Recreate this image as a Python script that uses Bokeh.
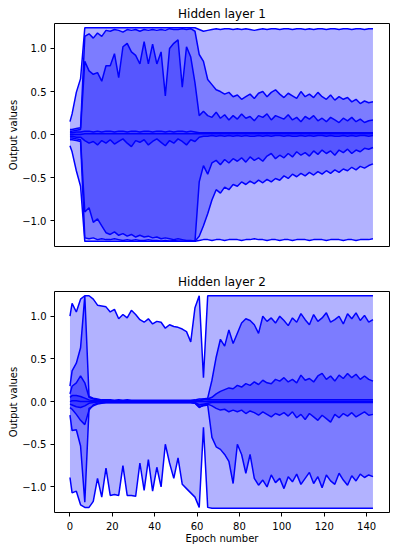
from bokeh.plotting import figure
from bokeh.layouts import column
from bokeh.models import Range1d, FixedTicker, CustomJSTickFormatter
from bokeh.embed import file_html
from bokeh.resources import INLINE

# epochs at which the percentile curves are read
epochs = [0] + list(range(1, 144, 2))

# ---------- Hidden layer 1: nine percentile curves, top to bottom ----------
h1_q0 = [0.15, 0.24, 0.49, 0.65, 1.24, 1.24, 1.24, 1.24, 1.24, 1.24,
         1.24, 1.24, 1.24, 1.24, 1.24, 1.24, 1.24, 1.24, 1.24, 1.24,
         1.24, 1.24, 1.24, 1.24, 1.24, 1.24, 1.24, 1.24, 1.24, 1.24,
         1.24, 1.22, 1.20, 1.21, 1.22, 1.23, 1.22, 1.23, 1.23, 1.22,
         1.23, 1.22, 1.23, 1.22, 1.21, 1.22, 1.23, 1.22, 1.23, 1.23,
         1.22, 1.23, 1.23, 1.22, 1.23, 1.23, 1.22, 1.23, 1.22, 1.23,
         1.23, 1.22, 1.23, 1.23, 1.22, 1.23, 1.23, 1.22, 1.23, 1.23,
         1.22, 1.23, 1.23]
h1_q1 = [0.06, 0.06, 0.07, 0.08, 1.14, 1.17, 1.12, 1.18, 1.14, 1.21,
         1.20, 1.22, 1.21, 1.19, 1.22, 1.21, 1.22, 1.20, 1.22, 1.21,
         1.22, 1.21, 1.22, 1.21, 1.23, 1.22, 1.22, 1.23, 1.22, 1.23,
         1.20, 0.93, 0.85, 0.64, 0.58, 0.52, 0.50, 0.47, 0.49, 0.44,
         0.46, 0.41, 0.44, 0.47, 0.42, 0.48, 0.50, 0.44, 0.49, 0.52,
         0.47, 0.43, 0.48, 0.45, 0.42, 0.50, 0.44, 0.47, 0.43, 0.49,
         0.44, 0.41, 0.46, 0.40, 0.44, 0.41, 0.43, 0.38, 0.41, 0.36,
         0.39, 0.37, 0.38]
h1_q2 = [0.04, 0.04, 0.05, 0.06, 0.85, 0.74, 0.70, 0.72, 0.62, 0.80,
         0.80, 0.94, 0.66, 1.02, 1.06, 0.96, 0.92, 0.82, 1.08, 0.82,
         1.05, 0.82, 0.96, 0.45, 1.00, 1.06, 1.10, 0.55, 1.02, 0.90,
         0.60, 0.22, 0.27, 0.22, 0.20, 0.26, 0.19, 0.23, 0.17, 0.22,
         0.18, 0.24, 0.19, 0.21, 0.16, 0.22, 0.20, 0.24, 0.17, 0.22,
         0.20, 0.18, 0.23, 0.17, 0.20, 0.15, 0.21, 0.18, 0.22, 0.16,
         0.19, 0.15, 0.20, 0.17, 0.14, 0.19, 0.16, 0.20, 0.15, 0.18,
         0.14, 0.16, 0.17]
h1_q3 = [0.02, 0.02, 0.03, 0.03, 0.04, 0.04, 0.03, 0.04, 0.03, 0.04,
         0.04, 0.03, 0.04, 0.04, 0.03, 0.04, 0.04, 0.03, 0.04, 0.04,
         0.03, 0.04, 0.04, 0.03, 0.04, 0.03, 0.04, 0.04, 0.03, 0.04,
         0.03, 0.02, 0.02, 0.02, 0.02, 0.02, 0.02, 0.02, 0.02, 0.02,
         0.02, 0.02, 0.02, 0.02, 0.02, 0.02, 0.02, 0.02, 0.02, 0.02,
         0.02, 0.02, 0.02, 0.02, 0.02, 0.02, 0.02, 0.02, 0.02, 0.02,
         0.02, 0.02, 0.02, 0.02, 0.02, 0.02, 0.02, 0.02, 0.02, 0.02,
         0.02, 0.02, 0.02]
h1_q4 = [0.00, 0.00, 0.00, 0.00, 0.01, 0.01, 0.01, 0.01, 0.01, 0.01,
         0.01, 0.01, 0.01, 0.01, 0.01, 0.01, 0.01, 0.01, 0.01, 0.01,
         0.01, 0.01, 0.01, 0.01, 0.01, 0.01, 0.01, 0.01, 0.01, 0.01,
         0.01, 0.01, 0.01, 0.01, 0.01, 0.01, 0.01, 0.01, 0.01, 0.01,
         0.01, 0.01, 0.01, 0.01, 0.01, 0.01, 0.01, 0.01, 0.01, 0.01,
         0.01, 0.01, 0.01, 0.01, 0.01, 0.01, 0.01, 0.01, 0.01, 0.01,
         0.01, 0.01, 0.01, 0.01, 0.01, 0.01, 0.01, 0.01, 0.01, 0.01,
         0.01, 0.01, 0.01]
h1_q5 = [-0.02, -0.02, -0.03, -0.03, -0.07, -0.10, -0.08, -0.12, -0.07, -0.10,
         -0.06, -0.11, -0.08, -0.05, -0.10, -0.14, -0.07, -0.09, -0.06, -0.12,
         -0.08, -0.05, -0.09, -0.13, -0.07, -0.10, -0.05, -0.08, -0.12, -0.06,
         -0.08, -0.03, -0.02, -0.02, -0.01, -0.02, -0.01, -0.02, -0.01, -0.02,
         -0.01, -0.02, -0.01, -0.02, -0.02, -0.01, -0.02, -0.01, -0.02, -0.01,
         -0.01, -0.02, -0.01, -0.02, -0.02, -0.01, -0.02, -0.01, -0.02, -0.01,
         -0.01, -0.02, -0.01, -0.02, -0.02, -0.01, -0.02, -0.01, -0.02, -0.01,
         -0.01, -0.02, -0.01]
h1_q6 = [-0.04, -0.04, -0.05, -0.06, -0.90, -0.85, -1.02, -0.98, -1.06, -1.14,
         -1.16, -1.13, -1.17, -1.15, -1.18, -1.16, -1.19, -1.17, -1.19, -1.18,
         -1.20, -1.19, -1.21, -1.20, -1.21, -1.22, -1.21, -1.22, -1.23, -1.23,
         -1.24, -0.55, -0.36, -0.46, -0.33, -0.30, -0.35, -0.29, -0.33, -0.28,
         -0.31, -0.27, -0.32, -0.26, -0.30, -0.27, -0.31, -0.25, -0.22, -0.28,
         -0.24, -0.27, -0.22, -0.26, -0.20, -0.24, -0.21, -0.25, -0.19, -0.23,
         -0.18, -0.22, -0.19, -0.24, -0.18, -0.21, -0.17, -0.22, -0.18, -0.20,
         -0.16, -0.17, -0.15]
h1_q7 = [-0.06, -0.06, -0.07, -0.08, -1.20, -1.21, -1.20, -1.22, -1.21, -1.22,
         -1.22, -1.21, -1.22, -1.23, -1.22, -1.23, -1.22, -1.23, -1.23, -1.22,
         -1.23, -1.23, -1.24, -1.23, -1.24, -1.23, -1.24, -1.24, -1.24, -1.24,
         -1.24, -1.18, -1.06, -0.92, -0.76, -0.64, -0.68, -0.61, -0.64, -0.58,
         -0.60, -0.55, -0.58, -0.54, -0.57, -0.53, -0.56, -0.52, -0.55, -0.51,
         -0.53, -0.48, -0.51, -0.46, -0.49, -0.45, -0.48, -0.44, -0.47, -0.43,
         -0.46, -0.42, -0.45, -0.41, -0.44, -0.40, -0.42, -0.38, -0.41, -0.37,
         -0.39, -0.36, -0.34]
h1_q8 = [-0.13, -0.20, -0.42, -0.60, -1.24, -1.24, -1.24, -1.24, -1.24, -1.24,
         -1.24, -1.24, -1.24, -1.24, -1.24, -1.24, -1.24, -1.24, -1.24, -1.24,
         -1.24, -1.24, -1.24, -1.24, -1.24, -1.24, -1.24, -1.24, -1.24, -1.24,
         -1.24, -1.23, -1.22, -1.22, -1.23, -1.22, -1.22, -1.23, -1.22, -1.22,
         -1.22, -1.23, -1.22, -1.22, -1.21, -1.22, -1.22, -1.23, -1.22, -1.22,
         -1.23, -1.22, -1.22, -1.23, -1.22, -1.22, -1.22, -1.23, -1.22, -1.22,
         -1.22, -1.23, -1.22, -1.22, -1.22, -1.23, -1.22, -1.22, -1.23, -1.22,
         -1.22, -1.22, -1.21]

# ---------- Hidden layer 2: nine percentile curves, top to bottom ----------
h2_q0 = [1.00, 1.15, 1.05, 1.20, 1.24, 1.24, 1.20, 1.13, 1.12, 1.11,
         1.05, 1.08, 0.97, 1.02, 0.98, 1.07, 1.02, 0.96, 0.93, 0.97,
         0.91, 0.94, 0.93, 0.86, 0.90, 0.88, 0.87, 0.85, 0.82, 0.70,
         1.10, 1.24, 0.28, 1.24, 1.24, 1.24, 1.24, 1.24, 1.24, 1.24,
         1.24, 1.24, 1.24, 1.24, 1.24, 1.24, 1.24, 1.24, 1.24, 1.24,
         1.24, 1.24, 1.24, 1.24, 1.24, 1.24, 1.24, 1.24, 1.24, 1.24,
         1.24, 1.24, 1.24, 1.24, 1.24, 1.24, 1.24, 1.24, 1.24, 1.24,
         1.24, 1.24, 1.24]
h2_q1 = [0.18, 0.36, 0.45, 0.63, 1.24, 0.06, 0.04, 0.03, 0.02, 0.02,
         0.02, 0.015, 0.02, 0.015, 0.02, 0.015, 0.015, 0.015, 0.015, 0.015,
         0.015, 0.015, 0.015, 0.015, 0.015, 0.015, 0.015, 0.015, 0.015, 0.015,
         0.02, 0.03, 0.03, 0.04, 0.25, 0.52, 0.73, 0.65, 0.84, 0.68,
         0.80, 0.92, 0.97, 0.95, 0.90, 0.80, 1.00, 0.94, 0.98, 0.92,
         1.00, 0.95, 0.89, 0.98, 0.93, 1.03, 0.96, 0.90, 1.02, 0.94,
         0.98, 1.04, 0.93, 0.96, 1.00, 0.91, 1.03, 0.97, 1.04, 0.95,
         1.01, 0.93, 0.96]
h2_q2 = [0.09, 0.18, 0.22, 0.30, 0.22, 0.05, 0.03, 0.02, 0.015, 0.01,
         0.01, 0.01, 0.01, 0.01, 0.01, 0.01, 0.01, 0.01, 0.01, 0.01,
         0.01, 0.01, 0.01, 0.01, 0.01, 0.01, 0.01, 0.01, 0.01, 0.01,
         0.01, 0.01, 0.02, 0.03, 0.05, 0.09, 0.12, 0.14, 0.16, 0.15,
         0.19, 0.17, 0.21, 0.19, 0.23, 0.20, 0.25, 0.22, 0.21, 0.26,
         0.24, 0.28, 0.23, 0.26, 0.22, 0.31, 0.25, 0.27, 0.23, 0.30,
         0.33, 0.26, 0.30, 0.24, 0.31, 0.27, 0.33, 0.28, 0.32, 0.26,
         0.30, 0.26, 0.24]
h2_q3 = [0.05, 0.07, 0.07, 0.06, 0.04, 0.02, 0.01, 0.01, 0.01, 0.01,
         0.005, 0.005, 0.005, 0.005, 0.005, 0.005, 0.005, 0.005, 0.005, 0.005,
         0.005, 0.005, 0.005, 0.005, 0.005, 0.005, 0.005, 0.005, 0.005, 0.005,
         0.005, 0.01, 0.03, 0.02, 0.02, 0.02, 0.02, 0.02, 0.02, 0.02,
         0.02, 0.02, 0.02, 0.02, 0.02, 0.02, 0.02, 0.02, 0.02, 0.02,
         0.02, 0.02, 0.02, 0.02, 0.02, 0.02, 0.02, 0.02, 0.02, 0.02,
         0.02, 0.02, 0.02, 0.02, 0.02, 0.02, 0.02, 0.02, 0.02, 0.02,
         0.02, 0.02, 0.02]
h2_q4 = [0.00, 0.01, 0.01, 0.00, 0.00, 0.00, 0.00, 0.00, 0.00, 0.00,
         0.00, 0.00, 0.00, 0.00, 0.00, 0.00, 0.00, 0.00, 0.00, 0.00,
         0.00, 0.00, 0.00, 0.00, 0.00, 0.00, 0.00, 0.00, 0.00, 0.00,
         0.00, 0.00, 0.00, 0.00, 0.00, 0.00, 0.00, 0.00, 0.00, 0.00,
         0.00, 0.00, 0.00, 0.00, 0.00, 0.00, 0.00, 0.00, 0.00, 0.00,
         0.00, 0.00, 0.00, 0.00, 0.00, 0.00, 0.00, 0.00, 0.00, 0.00,
         0.00, 0.00, 0.00, 0.00, 0.00, 0.00, 0.00, 0.00, 0.00, 0.00,
         0.00, 0.00, 0.00]
h2_q5 = [-0.03, -0.04, -0.06, -0.07, -0.05, -0.02, -0.01, -0.005, -0.005, -0.005,
         -0.005, -0.005, -0.005, -0.005, -0.005, -0.005, -0.005, -0.005, -0.005, -0.005,
         -0.005, -0.005, -0.005, -0.005, -0.005, -0.005, -0.005, -0.005, -0.005, -0.005,
         -0.01, -0.04, -0.03, -0.02, -0.01, -0.01, -0.01, -0.01, -0.01, -0.01,
         -0.01, -0.01, -0.01, -0.01, -0.01, -0.01, -0.01, -0.01, -0.01, -0.01,
         -0.01, -0.01, -0.01, -0.01, -0.01, -0.01, -0.01, -0.01, -0.01, -0.01,
         -0.01, -0.01, -0.01, -0.01, -0.01, -0.01, -0.01, -0.01, -0.01, -0.01,
         -0.01, -0.01, -0.01]
h2_q6 = [-0.07, -0.09, -0.15, -0.22, -0.27, -0.10, -0.04, -0.02, -0.015, -0.01,
         -0.01, -0.01, -0.01, -0.01, -0.01, -0.01, -0.01, -0.01, -0.01, -0.01,
         -0.01, -0.01, -0.01, -0.01, -0.01, -0.01, -0.01, -0.01, -0.01, -0.01,
         -0.02, -0.07, -0.04, -0.03, -0.05, -0.08, -0.10, -0.09, -0.12, -0.10,
         -0.12, -0.10, -0.14, -0.11, -0.13, -0.16, -0.12, -0.15, -0.18, -0.14,
         -0.16, -0.13, -0.17, -0.12, -0.19, -0.15, -0.21, -0.14, -0.18, -0.22,
         -0.16, -0.20, -0.24, -0.15, -0.19, -0.14, -0.17, -0.13, -0.18, -0.15,
         -0.12, -0.16, -0.15]
h2_q7 = [-0.16, -0.34, -0.33, -0.52, -1.18, -0.08, -0.05, -0.03, -0.02, -0.015,
         -0.015, -0.015, -0.015, -0.015, -0.015, -0.015, -0.015, -0.015, -0.015, -0.015,
         -0.015, -0.015, -0.015, -0.015, -0.015, -0.015, -0.015, -0.015, -0.015, -0.015,
         -0.02, -0.06, -0.05, -0.04, -0.42, -0.53, -0.56, -0.62, -0.70, -0.96,
         -0.50, -0.62, -0.84, -0.62, -0.90, -0.98, -0.92, -1.00, -0.86, -0.95,
         -0.90, -1.02, -0.88, -0.94, -0.85, -0.97, -0.90, -0.83, -0.96, -0.88,
         -1.01, -0.86, -0.93, -0.97, -0.84, -0.92, -0.98, -0.87, -0.93, -0.85,
         -0.89, -0.86, -0.88]
h2_q8 = [-0.89, -1.07, -1.05, -1.21, -1.24, -1.24, -1.17, -0.90, -1.12, -0.78,
         -1.10, -1.09, -1.10, -0.75, -1.10, -1.10, -1.11, -0.72, -1.04, -0.68,
         -1.05, -0.77, -1.00, -0.50, -0.72, -0.90, -0.66, -0.97, -1.02, -1.07,
         -1.12, -1.24, -0.30, -1.24, -1.25, -1.25, -1.25, -1.25, -1.25, -1.25,
         -1.25, -1.25, -1.25, -1.25, -1.25, -1.25, -1.25, -1.25, -1.25, -1.25,
         -1.25, -1.25, -1.25, -1.25, -1.25, -1.25, -1.25, -1.25, -1.25, -1.25,
         -1.25, -1.25, -1.25, -1.25, -1.25, -1.25, -1.25, -1.25, -1.25, -1.25,
         -1.25, -1.25, -1.25]

layer1 = [h1_q0, h1_q1, h1_q2, h1_q3, h1_q4, h1_q5, h1_q6, h1_q7, h1_q8]
layer2 = [h2_q0, h2_q1, h2_q2, h2_q3, h2_q4, h2_q5, h2_q6, h2_q7, h2_q8]
for c in layer1 + layer2:
    assert len(c) == len(epochs), len(c)

y_ticks = [-1.0, -0.5, 0.0, 0.5, 1.0]
x_ticks = [0, 20, 40, 60, 80, 100, 120, 140]

FONT = "DejaVu Sans"


def make_panel(title, curves, show_x, height, border_top, border_bottom):
    p = figure(width=395, height=height, output_backend="svg", toolbar_location=None,
               x_range=Range1d(-7.3, 150.8), y_range=Range1d(-1.30, 1.29),
               min_border_left=54, min_border_right=6,
               min_border_top=border_top, min_border_bottom=border_bottom,
               title=title)
    p.title.align = "center"
    p.title.text_font = FONT
    p.title.text_font_size = "12px"
    p.title.text_font_style = "normal"
    p.title.text_color = "black"
    p.title.standoff = 5
    p.grid.visible = False
    p.outline_line_color = "black"
    p.outline_line_width = 1
    p.background_fill_color = "white"
    p.border_fill_color = "white"

    n = len(curves)
    for i in range(n // 2):
        p.varea(x=epochs, y1=curves[i], y2=curves[n - 1 - i],
                fill_color="blue", fill_alpha=0.3)
    for c in curves:
        p.line(epochs, c, line_color="blue", line_width=1.5)

    for ax in (p.xaxis[0], p.yaxis[0]):
        ax.axis_line_color = None
        ax.major_tick_in = 0
        ax.major_tick_out = 4
        ax.minor_tick_line_color = None
        ax.major_tick_line_color = "black"
        ax.major_label_text_font = FONT
        ax.major_label_text_font_size = "10px"
        ax.major_label_text_color = "black"
        ax.axis_label_text_font = FONT
        ax.axis_label_text_font_size = "10px"
        ax.axis_label_text_font_style = "normal"
        ax.axis_label_text_color = "black"

    p.yaxis.ticker = FixedTicker(ticks=y_ticks)
    p.yaxis.formatter = CustomJSTickFormatter(
        code="return tick.toFixed(1).replace('-', '\u2212');")
    p.yaxis.axis_label = "Output values"
    p.yaxis.major_label_standoff = 4
    p.yaxis.axis_label_standoff = 0
    if show_x:
        p.xaxis.ticker = FixedTicker(ticks=x_ticks)
        p.xaxis.axis_label = "Epoch number"
        p.xaxis.major_label_standoff = 5
        p.xaxis.axis_label_standoff = 0
    else:
        p.xaxis.visible = False
    return p


p1 = make_panel("Hidden layer 1", layer1, False, 268, 23, 22)
p2 = make_panel("Hidden layer 2", layer2, True, 283, 23, 39)

layout = column(p1, p2)
open("out.html", "w").write(file_html(layout, INLINE))
